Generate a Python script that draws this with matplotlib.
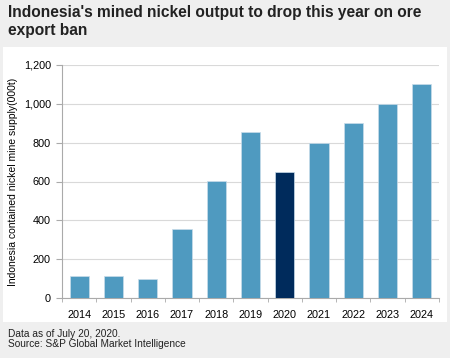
import matplotlib.pyplot as plt
import numpy as np

# Datos
years = ["2014", "2015", "2016", "2017", "2018", "2019", "2020", "2021", "2022", "2023", "2024"]
supply = [115, 115, 100, 354, 604, 855, 647, 800, 900, 1000, 1100]
highlight_year = "2020"

light_blue = "#4f9ac0"
dark_blue = "#002b5c"
bg_gray = "#efefef"

plt.rcParams['font.family'] = ['Liberation Sans', 'DejaVu Sans']

fig = plt.figure(figsize=(4.5, 3.58), dpi=100)
fig.patch.set_facecolor(bg_gray)

W, H = 450, 358
# Panel blanco de fondo
bg = fig.add_axes([3 / W, 1 - 322 / H, 444 / W, 275 / H], zorder=0)
bg.set_facecolor("white")
bg.set_xticks([])
bg.set_yticks([])
for s in bg.spines.values():
    s.set_visible(False)

ax = fig.add_axes([62 / W, 1 - 298 / H, 377 / W, 233 / H], zorder=1)
ax.patch.set_alpha(0)

x = np.arange(len(years))
colors = [dark_blue if y == highlight_year else light_blue for y in years]
ax.bar(x, supply, width=0.56, color=colors, edgecolor="#c9dcea", linewidth=0.5, zorder=3)

ax.set_xlim(-0.5, len(years) - 0.5)
ax.set_ylim(0, 1200)
ax.set_yticks(range(0, 1201, 200))
ax.set_yticklabels([f"{v:,}" for v in range(0, 1201, 200)], fontsize=7.8)
ax.set_xticks(x)
ax.set_xticklabels(years, fontsize=7.8)
ax.set_xticks(np.arange(-0.5, len(years)), minor=True)
ax.tick_params(axis="x", which="major", length=0, pad=9)
ax.tick_params(axis="x", which="minor", length=3, color="#aaaaaa")
ax.tick_params(axis="y", length=4, color="#aaaaaa", pad=4)

ax.grid(axis="y", color="#d9d9d9", linewidth=0.8, zorder=0)
for s in ["top", "right"]:
    ax.spines[s].set_visible(False)
ax.spines["left"].set_color("#aaaaaa")
ax.spines["bottom"].set_color("#aaaaaa")

ax.set_ylabel("Indonesia contained nickel mine supply(000t)", fontsize=7.5, labelpad=4)

fig.text(8 / W, 1 - 5 / H, "Indonesia's mined nickel output to drop this year on ore\nexport ban",
         fontsize=11.2, fontweight="bold", va="top", ha="left", color="#222222", linespacing=1.25)
fig.text(8 / W, 1 - 329 / H, "Data as of July 20, 2020.\nSource: S&P Global Market Intelligence",
         fontsize=7.3, va="top", ha="left", color="#222222", linespacing=1.05)

fig.savefig("out.png", dpi=100, facecolor=fig.get_facecolor())
